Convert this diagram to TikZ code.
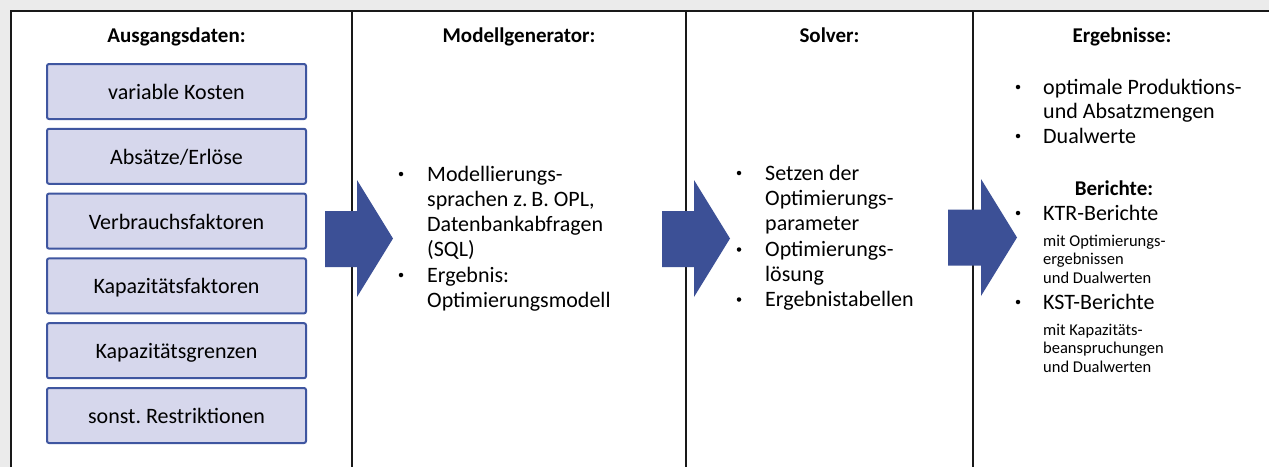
\documentclass[tikz,border=0pt]{standalone}
\usepackage{fontspec}
\setmainfont{Carlito}
\frenchspacing
\definecolor{boxfill}{HTML}{D6D7EC}
\definecolor{boxline}{HTML}{3F56A0}
\definecolor{arrowblue}{HTML}{3C5096}
\definecolor{bggray}{HTML}{EBEBEB}
\begin{document}
\begin{tikzpicture}[x=1pt,y=-1pt,
  databox/.style={draw=boxline,fill=boxfill,line width=2pt,rounded corners=2pt,minimum width=259pt,minimum height=55pt,text height=16pt,text depth=0pt,font=\fontsize{22}{25}\selectfont},
  header/.style={anchor=base,font=\fontsize{21}{24}\selectfont\bfseries,inner sep=0pt},
  txt/.style={anchor=base west,font=\fontsize{22}{25}\selectfont,inner sep=0pt},
  small/.style={anchor=base west,font=\fontsize{16.5}{19}\selectfont,inner sep=0pt},
  bul/.style={circle,fill=black,inner sep=0pt,minimum size=4.5pt},
  frameline/.style={line width=2.5pt,draw=black!90},
  bigarrow/.style={fill=arrowblue}]
\useasboundingbox (0,0) rectangle (1269,467);
\fill[bggray] (0,0) rectangle (1269,467);
\fill[white] (11,11) rectangle (1269,467);
\draw[frameline] (11,467) -- (11,11) -- (1269,11);
\draw[frameline] (352,11) -- (352,467);
\draw[frameline] (686,11) -- (686,467);
\draw[frameline] (973,11) -- (973,467);

% arrows
\fill[bigarrow] (325,211) -- (357,211) -- (357,180) -- (393,238.5) -- (357,297) -- (357,267) -- (325,267) -- cycle;
\fill[bigarrow] (662,211) -- (694,211) -- (694,180) -- (730,238.5) -- (694,297) -- (694,267) -- (662,267) -- cycle;
\fill[bigarrow] (948,209.5) -- (981,209.5) -- (981,179) -- (1017,237.5) -- (981,296) -- (981,265.5) -- (948,265.5) -- cycle;

% headers
\node[header] (h1) at (176.5,42) {Ausgangsdaten:};
\node[header] (h2) at (519,42) {Modellgenerator:};
\node[header] (h3) at (829.5,42) {Solver:};
\node[header] (h4) at (1122,42) {Ergebnisse:};
\node[header] (h5) at (1114,195) {Berichte:};

% data boxes
\node[databox] (b1) at (176.5,91.5) {variable Kosten};
\node[databox] (b2) at (176.5,156.3) {Absätze/Erlöse};
\node[databox] (b3) at (176.5,221.1) {Verbrauchsfaktoren};
\node[databox] (b4) at (176.5,285.9) {Kapazitätsfaktoren};
\node[databox] (b5) at (176.5,350.7) {Kapazitätsgrenzen};
\node[databox] (b6) at (176.5,415.5) {sonst. Restriktionen};

% column 2
\node[bul] (m1b) at (401,174) {};
\node[txt] (m1a) at (427,181) {Modellierungs-};
\node[txt] (m1c) at (427,206) {sprachen z.\,B. OPL,};
\node[txt] (m1d) at (427,231) {Datenbankabfragen};
\node[txt] (m1e) at (427,256) {(SQL)};
\node[bul] (m2b) at (401,275) {};
\node[txt] (m2a) at (427,282) {Ergebnis:};
\node[txt] (m2c) at (427,307) {Optimierungsmodell};

% column 3
\node[bul] (s1b) at (739,173) {};
\node[txt] (s1a) at (765,180) {Setzen der};
\node[txt] (s1c) at (765,205) {Optimierungs-};
\node[txt] (s1d) at (765,230) {parameter};
\node[bul] (s2b) at (739,249.5) {};
\node[txt] (s2a) at (765,256.5) {Optimierungs-};
\node[txt] (s2c) at (765,281.5) {lösung};
\node[bul] (s3b) at (739,299.5) {};
\node[txt] (s3a) at (765,306.5) {Ergebnistabellen};

% column 4
\node[bul] (e1b) at (1018,87) {};
\node[txt] (e1a) at (1043,94) {optimale Produktions-};
\node[txt] (e1c) at (1043,118.5) {und Absatzmengen};
\node[bul] (e2b) at (1018,136) {};
\node[txt] (e2a) at (1043,143) {Dualwerte};

\node[bul] (r1b) at (1018,213) {};
\node[txt] (r1a) at (1043,220) {KTR-Berichte};
\node[small] (r1c) at (1043,246) {mit Optimierungs-};
\node[small] (r1d) at (1043,264.5) {ergebnissen};
\node[small] (r1e) at (1043,283) {und Dualwerten};
\node[bul] (r2b) at (1018,302) {};
\node[txt] (r2a) at (1043,309) {KST-Berichte};
\node[small] (r2c) at (1043,335) {mit Kapazitäts-};
\node[small] (r2d) at (1043,353.5) {beanspruchungen};
\node[small] (r2e) at (1043,372) {und Dualwerten};
\end{tikzpicture}
\end{document}
